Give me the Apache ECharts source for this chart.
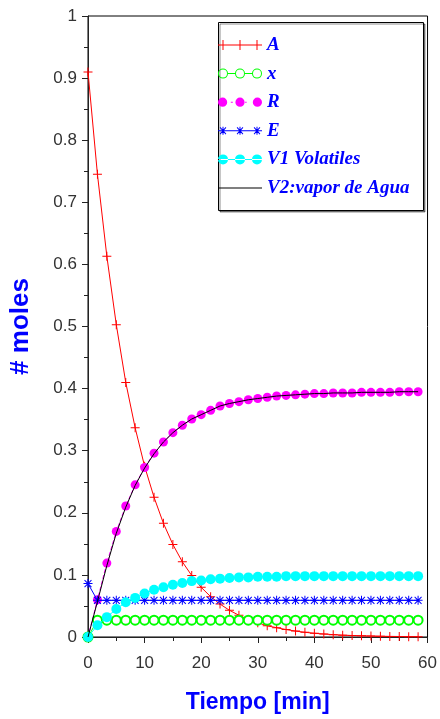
<!DOCTYPE html>
<html>
<head>
<meta charset="utf-8">
<script src="https://cdn.jsdelivr.net/npm/echarts@6/dist/echarts.min.js"></script>
<style>html,body{margin:0;padding:0;background:#fff}#c{width:440px;height:719px}</style>
</head>
<body>
<div id="c"></div>
<script>
// time (min)
var tiempo = [0,1.67,3.33,5,6.67,8.33,10,11.67,13.33,15,16.67,18.33,20,21.67,23.33,25,26.67,28.33,30,31.67,33.33,35,36.67,38.33,40,41.67,43.33,45,46.67,48.33,50,51.67,53.33,55,56.67,58.33];
var serieA = [0.91,0.745,0.613,0.503,0.41,0.337,0.275,0.225,0.183,0.149,0.121,0.099,0.080,0.065,0.053,0.043,0.035,0.028,0.023,0.018,0.015,0.012,0.0095,0.0076,0.006,0.0048,0.0038,0.003,0.0024,0.0019,0.0015,0.0012,0.001,0.0008,0.0006,0.0005];
var serieX = [0,0.027,0.027,0.027,0.027,0.027,0.027,0.027,0.027,0.027,0.027,0.027,0.027,0.027,0.027,0.027,0.027,0.027,0.027,0.027,0.027,0.027,0.027,0.027,0.027,0.027,0.027,0.027,0.027,0.027,0.027,0.027,0.027,0.027,0.027,0.027];
var serieR = [0,0.06,0.119,0.170,0.211,0.245,0.273,0.296,0.314,0.329,0.341,0.351,0.358,0.365,0.372,0.376,0.379,0.382,0.384,0.386,0.388,0.389,0.390,0.391,0.392,0.392,0.393,0.393,0.393,0.394,0.394,0.394,0.394,0.395,0.395,0.395];
var serieE = [0.086,0.059,0.059,0.059,0.059,0.059,0.059,0.059,0.059,0.059,0.059,0.059,0.059,0.059,0.059,0.059,0.059,0.059,0.059,0.059,0.059,0.059,0.059,0.059,0.059,0.059,0.059,0.059,0.059,0.059,0.059,0.059,0.059,0.059,0.059,0.059];
var serieV1 = [0,0.019,0.032,0.045,0.056,0.063,0.070,0.076,0.080,0.084,0.087,0.090,0.091,0.093,0.094,0.095,0.096,0.096,0.097,0.097,0.097,0.098,0.098,0.098,0.098,0.098,0.098,0.098,0.098,0.098,0.098,0.098,0.098,0.098,0.098,0.098];
var serieV2 = [0,0.057,0.115,0.167,0.209,0.244,0.272,0.295,0.314,0.329,0.341,0.351,0.358,0.365,0.372,0.376,0.379,0.382,0.384,0.386,0.388,0.389,0.390,0.391,0.392,0.392,0.393,0.393,0.393,0.394,0.394,0.394,0.394,0.395,0.395,0.395];
var nombres = ['A','x','R','E','V1 Volatiles','V2:vapor de Agua'];
var yTicks = {min:0, max:1, step:0.1};
var xTicks = {min:0, max:60, step:10};

function pairs(v){ return tiempo.map(function(t,i){ return [t, v[i]]; }); }

var plusPath = 'path://M4,0H5V9H4Z M0,4H9V5H0Z';
var starPath = 'path://M4,0H5V9H4Z M0,4H9V5H0Z M0.7,1.4L1.4,0.7L8.3,7.6L7.6,8.3Z M7.6,0.7L8.3,1.4L1.4,8.3L0.7,7.6Z';

function ring(cx, cy, r, r2){
  return 'M'+(cx-r)+','+cy+' A'+r+','+r+' 0 1 0 '+(cx+r)+','+cy+' A'+r+','+r+' 0 1 0 '+(cx-r)+','+cy+' Z '+
         'M'+(cx-r2)+','+cy+' A'+r2+','+r2+' 0 1 1 '+(cx+r2)+','+cy+' A'+r2+','+r2+' 0 1 1 '+(cx-r2)+','+cy+' Z ';
}
function dot(cx, cy, r){
  return 'M'+(cx-r)+','+cy+' A'+r+','+r+' 0 1 0 '+(cx+r)+','+cy+' A'+r+','+r+' 0 1 0 '+(cx-r)+','+cy+' Z ';
}
function vbar(cx){ return 'M'+(cx-0.5)+',0H'+(cx+0.5)+'V10H'+(cx-0.5)+'Z '; }
function star(cx){
  return 'M'+(cx-0.5)+',1H'+(cx+0.5)+'V9H'+(cx-0.5)+'Z M'+(cx-4)+',4.5H'+(cx+4)+'V5.5H'+(cx-4)+'Z '+
    'M'+(cx-3.3)+',2.0L'+(cx-2.6)+',1.3L'+(cx+3.3)+',8.0L'+(cx+2.6)+',8.7Z '+
    'M'+(cx+2.6)+',1.3L'+(cx+3.3)+',2.0L'+(cx-2.6)+',8.7L'+(cx-3.3)+',8.0Z ';
}
var hline = 'M0,4.5H44V5.5H0Z ';
var iconA = 'path://' + hline + vbar(5) + vbar(22) + vbar(39);
var iconX = 'path://' + ring(5,5,5,4) + ring(22,5,5,4) + ring(39,5,5,4) + 'M10,4.5H17V5.5H10Z M27,4.5H34V5.5H27Z';
var iconR = 'path://' + dot(5,5,4.5) + dot(22,5,4.5) + dot(39,5,4.5) + 'M13,4.5H15V5.5H13Z M27,4.5H28.5V5.5H27Z';
var iconE = 'path://' + hline + star(5) + star(22) + star(39);
var iconV1 = 'path://' + hline + dot(5,5,5) + dot(22,5,5) + dot(39,5,5);
var iconV2 = 'path://M0,4.5H44V5.5H0Z';

var chart = echarts.init(document.getElementById('c'), null, {renderer:'canvas'});
var labelFont = {color:'#333', fontSize:17, fontFamily:'Liberation Sans, Arial, sans-serif'};
var option = {
  animation:false,
  backgroundColor:'#fff',
  grid:{left:88, right:12, top:16, bottom:82, show:true, borderColor:'#000', borderWidth:1},
  xAxis:{
    type:'value', min:xTicks.min, max:xTicks.max, interval:xTicks.step,
    name:'Tiempo [min]', nameLocation:'middle', nameGap:54,
    nameTextStyle:{color:'#0000ff', fontWeight:'bold', fontSize:23, fontFamily:'Liberation Sans, Arial, sans-serif'},
    axisLine:{show:true, lineStyle:{color:'#222', width:1}},
    axisTick:{show:true, inside:false, length:6, lineStyle:{color:'#222'}},
    minorTick:{show:true, splitNumber:2, length:4, lineStyle:{color:'#222'}},
    axisLabel:Object.assign({margin:18}, labelFont),
    splitLine:{show:false}
  },
  yAxis:{
    type:'value', min:yTicks.min, max:yTicks.max, interval:yTicks.step,
    name:'# moles', nameLocation:'middle', nameGap:54,
    nameTextStyle:{color:'#0000ff', fontWeight:'bold', fontSize:26, fontFamily:'Liberation Sans, Arial, sans-serif'},
    axisLine:{show:true, lineStyle:{color:'#222', width:1}},
    axisTick:{show:true, inside:false, length:6, lineStyle:{color:'#222'}},
    minorTick:{show:true, splitNumber:2, length:4, lineStyle:{color:'#222'}},
    axisLabel:Object.assign({margin:11}, labelFont),
    splitLine:{show:false}
  },
  graphic:[{
    type:'rect', z:50,
    shape:{x:218.5, y:22.5, width:205, height:188},
    style:{fill:'#fff', stroke:'#000', lineWidth:1, shadowColor:'rgba(0,0,0,0.45)', shadowOffsetX:1.5, shadowOffsetY:1.5, shadowBlur:0}
  }],
  legend:{
    z:60, orient:'vertical', left:218, top:35.5, padding:0,
    itemWidth:44, itemHeight:10, itemGap:9.6, symbolKeepAspect:true, selectedMode:false,
    textStyle:{color:'#0000ff', fontStyle:'italic', fontWeight:'bold', fontSize:19, lineHeight:19, fontFamily:'Liberation Serif, Times New Roman, serif'},
    data:[
      {name:nombres[0], icon:iconA, itemStyle:{color:'#ff0000', borderWidth:0}},
      {name:nombres[1], icon:iconX, itemStyle:{color:'#00ff00', borderWidth:0}},
      {name:nombres[2], icon:iconR, itemStyle:{color:'#ff00ff', borderWidth:0}},
      {name:nombres[3], icon:iconE, itemStyle:{color:'#0000ff', borderWidth:0}},
      {name:nombres[4], icon:iconV1, itemStyle:{color:'#00ffff', borderWidth:0}},
      {name:nombres[5], icon:iconV2, itemStyle:{color:'#000000', borderWidth:0}}
    ]
  },
  series:[
    {name:nombres[0], type:'line', z:2, data:pairs(serieA), color:'#ff0000', showAllSymbol:true,
     symbol:plusPath, symbolSize:9, lineStyle:{width:1, color:'#ff0000'}, itemStyle:{color:'#ff0000', borderWidth:0}},
    {name:nombres[1], type:'line', z:2, data:pairs(serieX), color:'#00ff00', showAllSymbol:true,
     symbol:'emptyCircle', symbolSize:9, lineStyle:{width:1, color:'#00ff00'}, itemStyle:{color:'#00ff00', borderColor:'#00ff00', borderWidth:1.2}},
    {name:nombres[2], type:'line', z:2, data:pairs(serieR), color:'#ff00ff', showAllSymbol:true,
     symbol:'circle', symbolSize:9, lineStyle:{width:1, color:'#ff00ff', type:'dashed'}, itemStyle:{color:'#ff00ff', borderWidth:0}},
    {name:nombres[3], type:'line', z:3, data:pairs(serieE), color:'#0000ff', showAllSymbol:true,
     symbol:starPath, symbolSize:9, lineStyle:{width:1, color:'#0000ff'}, itemStyle:{color:'#0000ff', borderWidth:0}},
    {name:nombres[4], type:'line', z:4, data:pairs(serieV1), color:'#00ffff', showAllSymbol:true,
     symbol:'circle', symbolSize:10, lineStyle:{width:1, color:'#00ffff'}, itemStyle:{color:'#00ffff', borderWidth:0}},
    {name:nombres[5], type:'line', z:6, data:pairs(serieV2), color:'#000000', showSymbol:false, symbol:'none',
     lineStyle:{width:1, color:'#000000'}}
  ]
};
chart.setOption(option);
</script>
</body>
</html>
